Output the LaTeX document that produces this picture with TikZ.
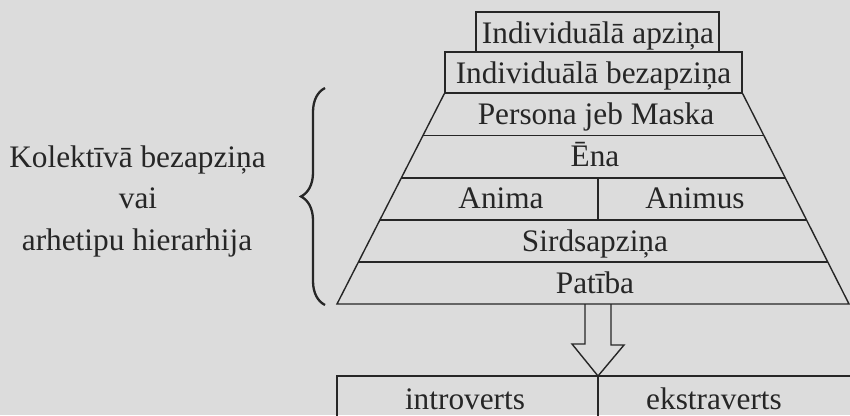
\documentclass[tikz,border=0pt]{standalone}
\usepackage{fontspec}
\setmainfont{Liberation Serif}
\usetikzlibrary{calc,decorations.pathreplacing}
\definecolor{paper}{RGB}{220,220,220}
\definecolor{ink}{RGB}{38,38,38}
\tikzset{
  lbl/.style={font=\fontsize{31.3}{36}\selectfont, text=ink, inner sep=0pt, anchor=base},
  ln/.style={draw=ink, line width=1.4pt, line join=miter},
  boxnode/.style={draw=ink, line width=1.4pt, inner sep=0pt},
}
\begin{document}
\begin{tikzpicture}[x=1pt,y=-1pt]
\fill[paper] (0,0) rectangle (850,415);
\useasboundingbox (0,0) rectangle (850,415);
\clip (0,0) rectangle (850,415);

% top boxes
\node[boxnode, minimum width=243pt, minimum height=40pt] (b1) at (597.5,32) {};
\node[boxnode, minimum width=297pt, minimum height=41pt] (b2) at (593.5,72.5) {};
\node[lbl] (t1) at (598,43) {Individuālā apziņa};
\node[lbl] (t2) at (593.5,83.5) {Individuālā bezapziņa};

% trapezoid
\coordinate (tl) at (b2.south west);
\coordinate (tr) at (b2.south east);
\coordinate (bl) at (337,304);
\coordinate (br) at (849,304);
\draw[ln] (tl) -- (bl) -- (br) -- (tr);
\foreach \k in {0.2,0.4,0.6,0.8}{
  \draw[ln] ($(tl)!\k!(bl)$) -- ($(tr)!\k!(br)$);
}
\coordinate (dvt) at (598,177.4);
\coordinate (dvb) at (598,219.6);
\draw[ln] (dvt) -- (dvb);

\node[lbl] (persona) at (596,124) {Persona jeb Maska};
\node[lbl] (ena) at (595,166.5) {Ēna};
\node[lbl] (anima) at (501,208.5) {Anima};
\node[lbl] (animus) at (695,208.5) {Animus};
\node[lbl] (sirds) at (595,251) {Sirdsapziņa};
\node[lbl] (patiba) at (595,293) {Patība};

% arrow
\coordinate (pb) at (598,304);
\coordinate (bt) at (598,376);
\draw[ln] ($(pb)+(-13,0)$) -- ++(0,40) -- ++(-13,0) -- (bt) -- ++(26,-31) -- ++(-13,0) -- ($(pb)+(13,0)$);

% bottom box
\draw[ln] (337,430) |- (870,376);
\draw[ln] (bt) -- ++(0,60);
\node[lbl] (intro) at (465,409) {introverts};
\node[lbl] (ekstra) at (714,409) {ekstraverts};

% brace
\coordinate (brb) at (325,305);
\coordinate (brt) at (325,88);
\draw[draw=ink, line width=2.3pt, decorate, decoration={brace, amplitude=24pt, aspect=0.5}] (brb) -- (brt);

% left label
\node[lbl] (k1) at (137.5,167) {Kolektīvā bezapziņa};
\node[lbl] (k2) at (138,208.5) {vai};
\node[lbl] (k3) at (137,250) {arhetipu hierarhija};
\end{tikzpicture}
\end{document}
